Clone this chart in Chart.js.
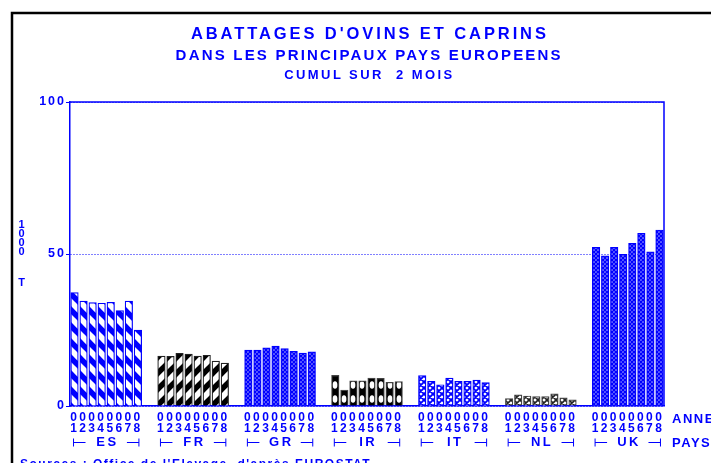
<!DOCTYPE html>
<html lang="fr">
  <head>
    <meta charset="UTF-8" />
    <title>Abattages d'ovins et caprins</title>
    <script src="https://cdn.jsdelivr.net/npm/chart.js"></script>
    <style>
      body {
        margin: 0;
        background: #fff;
      }
      #wrap {
        position: relative;
        width: 711px;
        height: 463px;
        overflow: hidden;
      }
      .title {
        position: absolute;
        left: 0;
        width: 734px;
        text-align: center;
        color: #0000ff;
        font-family: "Liberation Sans Narrow", "Liberation Sans", Arial, sans-serif;
        font-weight: bold;
        white-space: pre;
        line-height: 1;
      }
      #t1 { top: 25px; font-size: 16.5px; }
      #t2 { top: 47px; font-size: 15px; }
      #t3 { top: 68px; font-size: 13px; }
    </style>
  </head>
  <body>
    <div id="wrap">
      <canvas id="chart" width="711" height="463"></canvas>
      <div class="title" id="t1" data-width="355"><span>ABATTAGES D'OVINS ET CAPRINS</span></div>
      <div class="title" id="t2" data-width="385"><span>DANS LES PRINCIPAUX PAYS EUROPEENS</span></div>
      <div class="title" id="t3" data-width="168"><span>CUMUL SUR  2 MOIS</span></div>
    </div>

    <script>
      const BLUE = "#0000ff";
      const FONT = '"Liberation Sans Narrow", "Liberation Sans", Arial, sans-serif';

      // data (thousand tonnes)
      const years = ["01", "02", "03", "04", "05", "06", "07", "08"];
      const countries = ["ES", "FR", "GR", "IR", "IT", "NL", "UK"];
      const esValues = [37.3, 34.5, 34.0, 33.8, 34.1, 31.4, 34.5, 25.0];
      const frValues = [16.4, 16.3, 17.3, 17.1, 16.4, 16.7, 14.8, 14.1];
      const grValues = [18.4, 18.4, 19.1, 19.7, 18.9, 18.0, 17.4, 17.8];
      const irValues = [10.1, 5.2, 8.3, 8.3, 9.2, 9.1, 7.8, 8.0];
      const itValues = [10.0, 8.1, 7.0, 9.2, 8.1, 8.1, 8.5, 7.7];
      const nlValues = [2.4, 3.7, 3.3, 3.1, 3.1, 4.0, 2.7, 2.0];
      const ukValues = [52.2, 49.4, 52.2, 49.9, 53.5, 56.8, 50.7, 57.9];
      const yTicks = [0, 50, 100];
      const yUnit = "1000";
      const yUnitSuffix = "T";
      const yearAxisLabel = "ANNE";
      const countryAxisLabel = "PAYS";
      const sourceText = "Sources : Office de l'Elevage, d'après EUROSTAT";

      const seriesValues = [esValues, frValues, grValues, irValues, itValues, nlValues, ukValues];

      // spread title letters to the width they take in the original
      document.querySelectorAll(".title").forEach((el) => {
        const span = el.firstElementChild;
        const text = span.textContent;
        const natural = span.getBoundingClientRect().width;
        const ls = (Number(el.dataset.width) - natural) / (text.length - 1);
        el.style.letterSpacing = ls + "px";
        el.style.paddingLeft = ls + "px";
      });

      const GROUP_GAP = 1.6;
      const positions = countries.map((c, g) =>
        years.map((y, i) => g * (years.length + GROUP_GAP) + i)
      );
      const lastPos = positions[positions.length - 1][years.length - 1];

      function tile(w, h, draw) {
        const c = document.createElement("canvas");
        c.width = w;
        c.height = h;
        draw(c.getContext("2d"), w, h);
        return c;
      }

      function stripes(color, back) {
        return tile(16, 16, (g) => {
          g.fillStyle = "#fff";
          g.fillRect(0, 0, 16, 16);
          g.strokeStyle = color;
          g.lineWidth = 5.5;
          for (const k of [-16, 0, 16]) {
            g.beginPath();
            if (back) {
              g.moveTo(k - 2, -2);
              g.lineTo(k + 18, 18);
            } else {
              g.moveTo(k - 2, 18);
              g.lineTo(k + 18, -2);
            }
            g.stroke();
          }
        });
      }

      // crosshatch: diagonal lines both ways on white
      function hatch(color, size, width) {
        return tile(size, size, (g) => {
          g.fillStyle = "#fff";
          g.fillRect(0, 0, size, size);
          g.strokeStyle = color;
          g.lineWidth = width;
          g.beginPath();
          for (const k of [-size, 0, size]) {
            g.moveTo(k, 0);
            g.lineTo(k + size, size);
            g.moveTo(k, size);
            g.lineTo(k + size, 0);
          }
          g.stroke();
        });
      }

      const ovals = tile(8, 14, (g) => {
        g.fillStyle = "#000";
        g.fillRect(0, 0, 8, 14);
        g.fillStyle = "#fff";
        g.beginPath();
        g.ellipse(4, 7, 2.4, 3.8, 0, 0, Math.PI * 2);
        g.fill();
      });

      const tiles = [
        stripes(BLUE, true),
        stripes("#000", false),
        hatch(BLUE, 4, 1.6),
        ovals,
        hatch(BLUE, 6, 1.8),
        hatch("#222", 6, 1.6),
        hatch(BLUE, 4, 1.6),
      ];
      const fallback = [BLUE, "#000", BLUE, "#000", BLUE, "#333", BLUE];
      const borders = [BLUE, "#222", BLUE, "#444", BLUE, "#444", BLUE];

      function patternFor(g, context) {
        const chart = context.chart;
        if (context.type !== "data" || !chart.scales.x || !context.raw) return fallback[g];
        const left = Math.round(chart.scales.x.getPixelForValue(context.raw.x) - 4);
        const base = Math.round(chart.scales.y.getPixelForValue(0));
        const p = chart.ctx.createPattern(tiles[g], "repeat");
        p.setTransform(new DOMMatrix([1, 0, 0, 1, left, base]));
        return p;
      }

      const decorations = {
        id: "decorations",
        beforeDraw(chart) {
          const ctx = chart.ctx;
          ctx.save();
          ctx.strokeStyle = "#000";
          ctx.lineWidth = 2.5;
          ctx.beginPath();
          ctx.moveTo(12, 470);
          ctx.lineTo(12, 13);
          ctx.lineTo(720, 13);
          ctx.stroke();
          ctx.restore();
          ctx.letterSpacing = "2px";
        },
        afterDraw(chart) {
          const ctx = chart.ctx;
          const { left, top, right, bottom } = chart.chartArea;
          const x = chart.scales.x;
          ctx.save();
          ctx.strokeStyle = BLUE;
          ctx.fillStyle = BLUE;
          ctx.lineWidth = 1.5;
          ctx.beginPath();
          ctx.moveTo(left, top);
          ctx.lineTo(right, top);
          ctx.lineTo(right, bottom);
          ctx.stroke();

          // unit, stacked
          ctx.letterSpacing = "0px";
          ctx.font = `bold 11px ${FONT}`;
          ctx.textAlign = "center";
          ctx.textBaseline = "middle";
          yUnit.split("").forEach((ch, i) => ctx.fillText(ch, 21.5, 225 + i * 9));
          ctx.fillText(yUnitSuffix, 21.5, 282.5);

          // country brackets
          ctx.lineWidth = 1;
          ctx.font = `bold 13px ${FONT}`;
          ctx.letterSpacing = "2.5px";
          const yb = 442.5;
          countries.forEach((c, g) => {
            const xs = x.getPixelForValue(positions[g][0]) - 1;
            const xe = x.getPixelForValue(positions[g][years.length - 1]) + 1;
            ctx.beginPath();
            ctx.moveTo(xs, yb - 4);
            ctx.lineTo(xs, yb + 4);
            ctx.moveTo(xs, yb);
            ctx.lineTo(xs + 12, yb);
            ctx.moveTo(xe - 12, yb);
            ctx.lineTo(xe, yb);
            ctx.moveTo(xe, yb - 4);
            ctx.lineTo(xe, yb + 4);
            ctx.stroke();
            ctx.fillText(c, (xs + xe) / 2 + 1.25, yb);
          });

          ctx.textAlign = "left";
          ctx.font = `bold 13px ${FONT}`;
          ctx.letterSpacing = "1.5px";
          ctx.fillText(yearAxisLabel, 672, 419);
          ctx.fillText(countryAxisLabel, 672, 443);

          ctx.textBaseline = "top";
          ctx.font = `bold 12px ${FONT}`;
          ctx.fillText(sourceText, 20, 459);
          ctx.restore();
          ctx.letterSpacing = "0px";
        },
      };

      new Chart(document.getElementById("chart").getContext("2d"), {
        type: "bar",
        data: {
          datasets: countries.map((c, g) => ({
            label: c,
            data: seriesValues[g].map((v, i) => ({ x: positions[g][i], y: v })),
            backgroundColor: (context) => patternFor(g, context),
            borderColor: borders[g],
            borderWidth: 1.2,
            barThickness: 7.5,
            grouped: false,
          })),
        },
        options: {
          responsive: false,
          animation: false,
          layout: { padding: { top: 102, right: 47, left: 0, bottom: 0 } },
          plugins: {
            legend: { display: false },
            title: { display: false },
            tooltip: { enabled: false },
          },
          scales: {
            x: {
              type: "linear",
              min: -0.5,
              max: lastPos + 0.5,
              offset: false,
              afterBuildTicks: (s) => {
                s.ticks = positions.flat().map((v) => ({ value: v }));
              },
              afterFit: (s) => {
                s.height = 57;
              },
              grid: { offset: false, drawOnChartArea: false, drawTicks: false },
              border: { color: BLUE, width: 1.5 },
              ticks: {
                autoSkip: false,
                maxRotation: 0,
                minRotation: 0,
                padding: 7,
                color: BLUE,
                font: { family: FONT, size: 12, weight: "bold", lineHeight: 0.85 },
                callback: (v, i) => years[i % years.length].split(""),
              },
            },
            y: {
              min: 0,
              max: 100,
              afterBuildTicks: (s) => {
                s.ticks = yTicks.map((v) => ({ value: v }));
              },
              afterFit: (s) => {
                s.width = 70;
              },
              grid: { color: BLUE, lineWidth: 1, tickLength: 4, tickColor: BLUE },
              border: { color: BLUE, width: 1.5, dash: [1, 2] },
              ticks: {
                padding: 0,
                color: BLUE,
                font: { family: FONT, size: 12.5, weight: "bold" },
              },
            },
          },
        },
        plugins: [decorations],
      });
    </script>
  </body>
</html>
